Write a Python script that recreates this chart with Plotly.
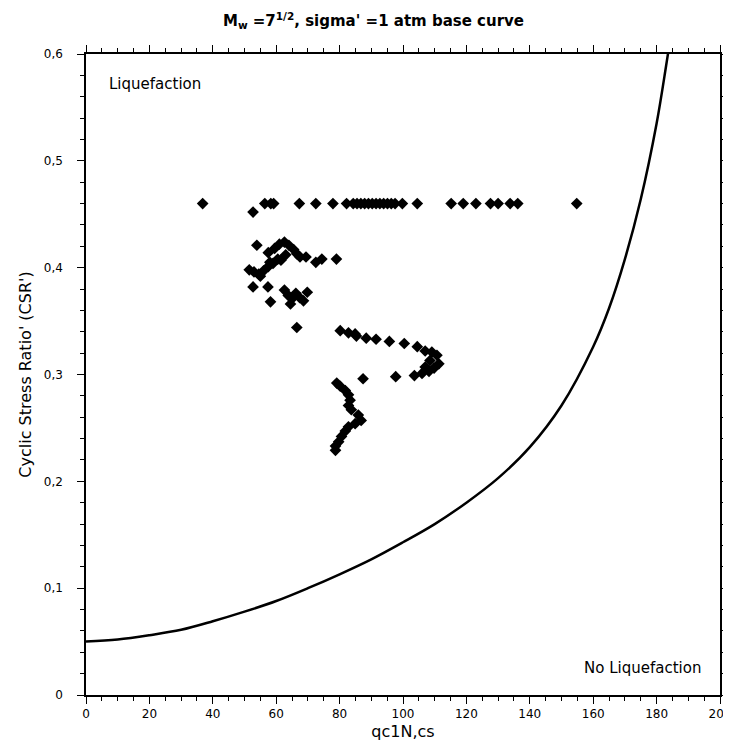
import plotly.graph_objects as go

# base curve (qc1N,cs -> CSR)
curve_q = [0, 10, 20, 30, 40, 50, 60, 70, 80, 90, 100, 110, 120, 130, 140, 150,
           160, 165, 170, 175, 180, 183, 185]
curve_csr = [0.050, 0.052, 0.056, 0.061, 0.069, 0.078, 0.088, 0.100, 0.113, 0.127,
             0.143, 0.160, 0.180, 0.203, 0.232, 0.271, 0.326, 0.362, 0.408, 0.464,
             0.535, 0.589, 0.628]

# field points (qc1N,cs, CSR)
pts_q = [
    # top row
    36.8, 52.7, 56.4, 58.3, 59.2, 67.3, 72.5, 77.9, 82.2, 84.3, 85.5, 86.7, 87.9,
    89.1, 90.3, 91.5, 92.7, 93.9, 95.1, 96.3, 97.5, 99.8, 104.5, 115.2, 119.0,
    123.0, 127.6, 130.0, 133.8, 136.2, 154.8,
    # upper cluster
    53.9, 57.5, 59.5, 61.0, 62.6, 64.0, 65.5, 63.0, 60.5, 58.0, 66.5, 67.5, 69.4,
    72.5, 74.4, 79.0, 51.5, 53.0, 54.5, 56.0, 57.5, 59.0, 55.0, 61.5,
    52.7, 57.4, 58.2, 62.6, 63.8, 65.0, 66.2, 67.4, 68.6, 69.8, 64.5, 66.5,
    # second row
    80.2, 82.8, 84.9, 85.3, 88.4, 91.5, 95.7, 100.4, 104.5,
    107.0, 109.1, 110.7, 108.5, 111.3, 107.0, 109.8, 108.2, 106.0, 103.6,
    97.7, 87.4,
    # chain
    79.1, 80.2, 81.8, 82.8, 83.3, 82.8, 83.7, 85.9, 86.8, 84.9, 82.8, 81.8,
    80.6, 79.7, 78.7, 78.7,
]
pts_csr = [
    0.460, 0.452, 0.460, 0.460, 0.460, 0.460, 0.460, 0.460, 0.460, 0.460, 0.460,
    0.460, 0.460, 0.460, 0.460, 0.460, 0.460, 0.460, 0.460, 0.460, 0.460, 0.460,
    0.460, 0.460, 0.460, 0.460, 0.460, 0.460, 0.460, 0.460, 0.460,
    0.421, 0.414, 0.418, 0.422, 0.424, 0.421, 0.417, 0.412, 0.408, 0.405, 0.413,
    0.410, 0.410, 0.405, 0.408, 0.408, 0.398, 0.396, 0.394, 0.397, 0.401, 0.404,
    0.392, 0.407,
    0.382, 0.382, 0.368, 0.379, 0.374, 0.371, 0.376, 0.372, 0.369, 0.377, 0.366,
    0.344,
    0.341, 0.339, 0.338, 0.336, 0.334, 0.333, 0.331, 0.329, 0.326,
    0.322, 0.321, 0.318, 0.313, 0.310, 0.307, 0.306, 0.303, 0.301, 0.299,
    0.298, 0.296,
    0.292, 0.289, 0.285, 0.281, 0.276, 0.271, 0.267, 0.262, 0.257, 0.254, 0.251,
    0.247, 0.242, 0.237, 0.233, 0.229,
]

fig = go.Figure()
fig.add_trace(go.Scatter(x=curve_q, y=curve_csr, mode="lines",
                         line=dict(color="black", width=2.5, shape="spline"),
                         showlegend=False))
fig.add_trace(go.Scatter(x=pts_q, y=pts_csr, mode="markers",
                         marker=dict(symbol="diamond", size=9, color="black"),
                         showlegend=False))

fig.add_annotation(x=6.5, y=0.572, text="Liquefaction", showarrow=False,
                   xanchor="left", font=dict(size=15, color="black"))
fig.add_annotation(x=194.5, y=0.025, text="No Liquefaction", showarrow=False,
                   xanchor="right", font=dict(size=15, color="black"))

axis = dict(showline=True, linecolor="black", linewidth=1.5, mirror="allticks",
            ticks="outside", ticklen=7, tickcolor="black", showgrid=False,
            zeroline=False, tickfont=dict(size=12, color="black"))

fig.update_xaxes(range=[0, 200], dtick=20,
                 minor=dict(dtick=5, ticks="outside", ticklen=4, tickcolor="black"),
                 title=dict(text="qc1N,cs", font=dict(size=16, color="black"), standoff=6),
                 **axis)
fig.update_yaxes(range=[0, 0.6], dtick=0.1, ticklabelstandoff=12,
                 minor=dict(dtick=0.02, ticks="outside", ticklen=4, tickcolor="black"),
                 title=dict(text="Cyclic Stress Ratio' (CSR')",
                            font=dict(size=16, color="black"), standoff=8),
                 **axis)

fig.update_layout(
    width=731, height=744,
    margin=dict(l=78, r=8, t=46, b=57),
    paper_bgcolor="white", plot_bgcolor="white",
    separators=",.",
    font=dict(family="DejaVu Sans", color="black"),
    title=dict(text="<b>M<sub>w</sub> =7<sup>1/2</sup>, sigma' =1 atm base curve</b>",
               x=0.5, xref="container", y=0.99, yanchor="top",
               font=dict(size=15, color="black")),
)

fig.write_html("out.html")
